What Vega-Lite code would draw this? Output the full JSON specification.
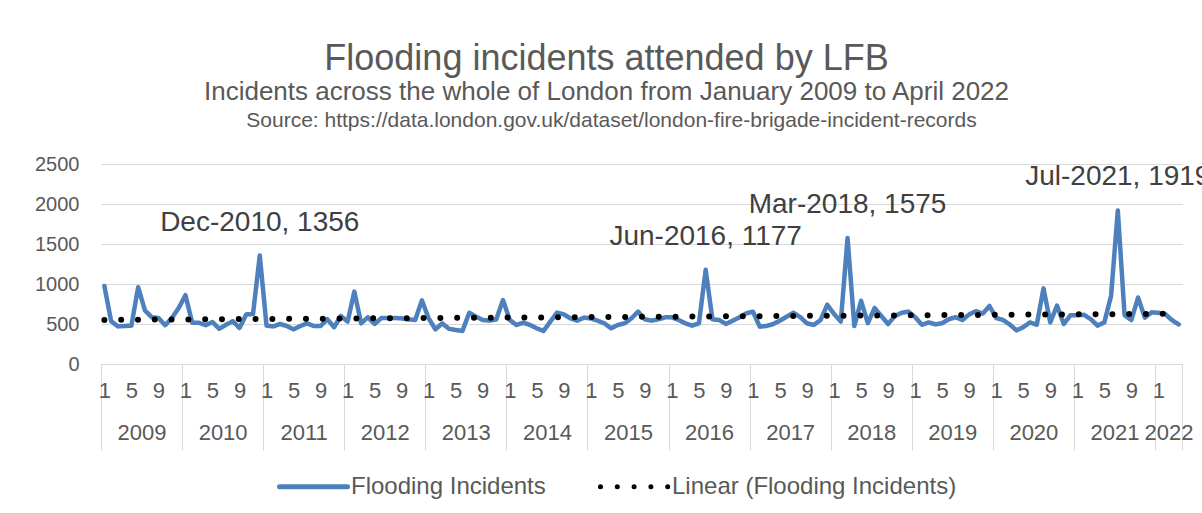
{
  "$schema": "https://vega.github.io/schema/vega-lite/v6.json",
  "width": 1081,
  "height": 200,
  "autosize": "none",
  "padding": {"left": 101, "top": 164, "right": 20, "bottom": 149},
  "background": "white",
  "title": {
    "text": "Flooding incidents attended by LFB",
    "subtitle": "Incidents across the whole of London from January 2009 to April 2022",
    "anchor": "middle",
    "frame": "group",
    "font": "Liberation Sans",
    "subtitleFont": "Liberation Sans",
    "fontSize": 36,
    "subtitleFontSize": 26,
    "fontWeight": "normal",
    "color": "#595959",
    "subtitleColor": "#595959",
    "dx": -35,
    "offset": 3,
    "subtitlePadding": 1
  },
  "datasets": {
    "flood": [
      {"idx":0,"value":975},{"idx":1,"value":535},{"idx":2,"value":470},{"idx":3,"value":475},{"idx":4,"value":480},{"idx":5,"value":960},{"idx":6,"value":670},{"idx":7,"value":585},{"idx":8,"value":575},{"idx":9,"value":485},{"idx":10,"value":575},{"idx":11,"value":700},
      {"idx":12,"value":860},{"idx":13,"value":515},{"idx":14,"value":515},{"idx":15,"value":485},{"idx":16,"value":525},{"idx":17,"value":440},{"idx":18,"value":490},{"idx":19,"value":535},{"idx":20,"value":450},{"idx":21,"value":620},{"idx":22,"value":625},{"idx":23,"value":1356},
      {"idx":24,"value":480},{"idx":25,"value":470},{"idx":26,"value":500},{"idx":27,"value":475},{"idx":28,"value":433},{"idx":29,"value":475},{"idx":30,"value":508},{"idx":31,"value":475},{"idx":32,"value":475},{"idx":33,"value":560},{"idx":34,"value":460},{"idx":35,"value":600},
      {"idx":36,"value":530},{"idx":37,"value":905},{"idx":38,"value":508},{"idx":39,"value":583},{"idx":40,"value":500},{"idx":41,"value":575},{"idx":42,"value":575},{"idx":43,"value":575},{"idx":44,"value":570},{"idx":45,"value":558},{"idx":46,"value":550},{"idx":47,"value":795},
      {"idx":48,"value":570},{"idx":49,"value":433},{"idx":50,"value":508},{"idx":51,"value":440},{"idx":52,"value":425},{"idx":53,"value":413},{"idx":54,"value":640},{"idx":55,"value":592},{"idx":56,"value":550},{"idx":57,"value":542},{"idx":58,"value":558},{"idx":59,"value":800},
      {"idx":60,"value":550},{"idx":61,"value":488},{"idx":62,"value":517},{"idx":63,"value":488},{"idx":64,"value":446},{"idx":65,"value":413},{"idx":66,"value":530},{"idx":67,"value":642},{"idx":68,"value":620},{"idx":69,"value":570},{"idx":70,"value":542},{"idx":71,"value":580},
      {"idx":72,"value":570},{"idx":73,"value":542},{"idx":74,"value":508},{"idx":75,"value":446},{"idx":76,"value":488},{"idx":77,"value":508},{"idx":78,"value":570},{"idx":79,"value":655},{"idx":80,"value":558},{"idx":81,"value":542},{"idx":82,"value":558},{"idx":83,"value":583},
      {"idx":84,"value":583},{"idx":85,"value":550},{"idx":86,"value":508},{"idx":87,"value":480},{"idx":88,"value":508},{"idx":89,"value":1177},{"idx":90,"value":558},{"idx":91,"value":550},{"idx":92,"value":500},{"idx":93,"value":542},{"idx":94,"value":583},{"idx":95,"value":633},
      {"idx":96,"value":654},{"idx":97,"value":467},{"idx":98,"value":475},{"idx":99,"value":500},{"idx":100,"value":542},{"idx":101,"value":592},{"idx":102,"value":640},{"idx":103,"value":585},{"idx":104,"value":508},{"idx":105,"value":488},{"idx":106,"value":550},{"idx":107,"value":740},
      {"idx":108,"value":625},{"idx":109,"value":530},{"idx":110,"value":1575},{"idx":111,"value":475},{"idx":112,"value":790},{"idx":113,"value":510},{"idx":114,"value":700},{"idx":115,"value":600},{"idx":116,"value":500},{"idx":117,"value":600},{"idx":118,"value":640},{"idx":119,"value":655},
      {"idx":120,"value":585},{"idx":121,"value":490},{"idx":122,"value":520},{"idx":123,"value":495},{"idx":124,"value":510},{"idx":125,"value":560},{"idx":126,"value":585},{"idx":127,"value":550},{"idx":128,"value":620},{"idx":129,"value":660},{"idx":130,"value":630},{"idx":131,"value":725},
      {"idx":132,"value":575},{"idx":133,"value":550},{"idx":134,"value":495},{"idx":135,"value":420},{"idx":136,"value":460},{"idx":137,"value":520},{"idx":138,"value":490},{"idx":139,"value":945},{"idx":140,"value":520},{"idx":141,"value":730},{"idx":142,"value":500},{"idx":143,"value":610},
      {"idx":144,"value":610},{"idx":145,"value":615},{"idx":146,"value":560},{"idx":147,"value":480},{"idx":148,"value":520},{"idx":149,"value":850},{"idx":150,"value":1919},{"idx":151,"value":610},{"idx":152,"value":550},{"idx":153,"value":830},{"idx":154,"value":580},{"idx":155,"value":645},
      {"idx":156,"value":640},{"idx":157,"value":625},{"idx":158,"value":550},{"idx":159,"value":495}
    ],
    "notes": [
      {"idx":23,"value":1356,"label":"Dec-2010, 1356"},
      {"idx":89,"value":1177,"label":"Jun-2016, 1177"},
      {"idx":110,"value":1575,"label":"Mar-2018, 1575"},
      {"idx":150,"value":1919,"label":"Jul-2021, 1919"}
    ]
  },
  "encoding": {
    "y": {
      "field": "value", "type": "quantitative",
      "scale": {"domain": [0, 2500], "nice": false, "zero": true},
      "axis": {
        "values": [0, 500, 1000, 1500, 2000, 2500],
        "tickCount": 20,
        "format": "d", "labelOverlap": false, "labelBound": false, "labelFlush": false,
        "title": null, "domain": false, "ticks": false, "grid": true,
        "gridColor": "#d9d9d9", "gridWidth": 1,
        "labelFontSize": 20, "labelColor": "#595959", "labelPadding": 22, "labelFont": "Liberation Sans"
      }
    }
  },
  "layer": [
    {
      "data": {"name": "flood"},
      "mark": {"type": "line", "strokeWidth": 4.5, "strokeJoin": "round", "strokeCap": "round"},
      "encoding": {
        "x": {
          "field": "idx", "type": "quantitative",
          "scale": {"domain": [-0.5, 159.5], "nice": false, "zero": false},
          "axis": {
            "orient": "bottom",
            "values": [-0.5, 11.5, 23.5, 35.5, 47.5, 59.5, 71.5, 83.5, 95.5, 107.5, 119.5, 131.5, 143.5, 155.5, 159.5],
            "tickCount": 200,
            "labels": false, "ticks": true, "tickSize": 86, "tickColor": "#d9d9d9", "tickWidth": 1,
            "domain": true, "domainColor": "#d9d9d9", "domainWidth": 1, "grid": false, "title": null
          }
        },
        "color": {
          "datum": "Flooding Incidents", "type": "nominal",
          "scale": {"domain": ["Flooding Incidents", "Linear (Flooding Incidents)"], "range": ["#4e80bd", "#000000"]},
          "legend": {
            "orient": "none", "legendX": 176, "legendY": 286, "direction": "horizontal", "title": null,
            "symbolType": "stroke", "symbolSize": 4624, "symbolStrokeWidth": 5,
            "labelFontSize": 24, "labelFont": "Liberation Sans", "labelColor": "#595959", "labelOffset": 1,
            "labelLimit": 500, "columnPadding": 44,
            "encode": {"symbols": {"update": {"strokeCap": {"value": "round"}}}}
          }
        },
        "strokeDash": {
          "datum": "Flooding Incidents", "type": "nominal",
          "scale": {"domain": ["Flooding Incidents", "Linear (Flooding Incidents)"], "range": [[1, 0], [0, 16.8]]},
          "legend": {
            "orient": "none", "legendX": 176, "legendY": 286, "direction": "horizontal", "title": null,
            "symbolType": "stroke", "symbolSize": 4624, "symbolStrokeWidth": 5,
            "labelFontSize": 24, "labelFont": "Liberation Sans", "labelColor": "#595959", "labelOffset": 1,
            "labelLimit": 500, "columnPadding": 44,
            "encode": {"symbols": {"update": {"strokeCap": {"value": "round"}}}}
          }
        }
      }
    },
    {
      "data": {"name": "flood"},
      "transform": [{"regression": "value", "on": "idx"}],
      "mark": {"type": "line", "strokeWidth": 6, "strokeCap": "round"},
      "encoding": {
        "x": {
          "field": "idx", "type": "quantitative",
          "axis": {
            "orient": "bottom",
            "values": [0, 4, 8, 12, 16, 20, 24, 28, 32, 36, 40, 44, 48, 52, 56, 60, 64, 68, 72, 76, 80, 84, 88, 92, 96, 100, 104, 108, 112, 116, 120, 124, 128, 132, 136, 140, 144, 148, 152, 156],
            "tickCount": 200,
            "labelExpr": "(datum.value % 12) + 1",
            "ticks": false, "domain": false, "grid": false, "title": null,
            "labelFontSize": 22, "labelColor": "#595959", "labelFont": "Liberation Sans", "labelPadding": 16,
            "labelOverlap": false, "labelFlush": false, "labelBound": false
          }
        },
        "color": {"datum": "Linear (Flooding Incidents)", "type": "nominal"},
        "strokeDash": {"datum": "Linear (Flooding Incidents)", "type": "nominal"}
      }
    },
    {
      "data": {"name": "notes"},
      "mark": {"type": "text", "dy": -25, "baseline": "alphabetic", "align": "center", "fontSize": 28, "font": "Liberation Sans", "color": "#404040"},
      "encoding": {
        "x": {
          "field": "idx", "type": "quantitative",
          "axis": {
            "orient": "bottom",
            "values": [5.5, 17.5, 29.5, 41.5, 53.5, 65.5, 77.5, 89.5, 101.5, 113.5, 125.5, 137.5, 149.5, 157.5],
            "tickCount": 200,
            "labelExpr": "2009 + floor((datum.value + 0.5) / 12)",
            "ticks": false, "domain": false, "grid": false, "title": null,
            "labelFontSize": 22, "labelColor": "#595959", "labelFont": "Liberation Sans", "labelPadding": 58,
            "labelOverlap": false, "labelFlush": false, "labelBound": false
          }
        },
        "text": {"field": "label", "type": "nominal"}
      }
    },
    {
      "data": {"name": "notes"},
      "mark": {"type": "point", "opacity": 0},
      "encoding": {
        "x": {
          "field": "idx", "type": "quantitative",
          "axis": {
            "orient": "top", "labels": false, "ticks": false, "domain": false, "grid": false,
            "title": "Source: https://data.london.gov.uk/dataset/london-fire-brigade-incident-records",
            "titleFont": "Liberation Sans", "titleFontSize": 21, "titleFontWeight": "normal", "titleColor": "#595959",
            "titleX": 510, "titleY": -38, "titleBaseline": "alphabetic", "titleAlign": "center", "titleAnchor": "middle"
          }
        }
      }
    }
  ],
  "resolve": {"axis": {"x": "independent"}},
  "config": {
    "font": "Liberation Sans",
    "view": {"stroke": null}
  }
}
